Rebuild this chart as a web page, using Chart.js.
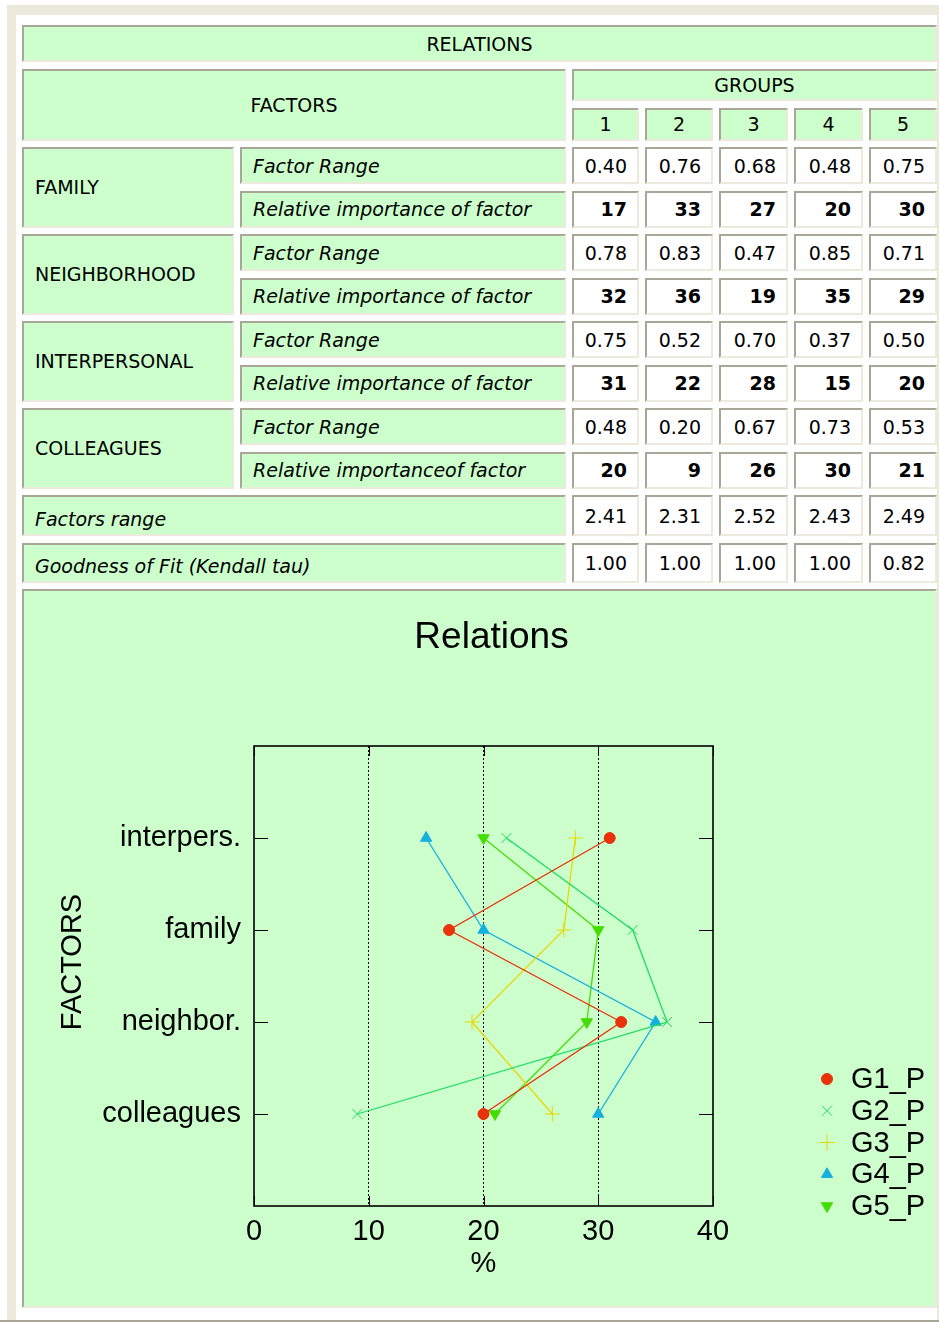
<!DOCTYPE html>
<html>
<head>
<meta charset="utf-8">
<title>Relations</title>
<script src="https://cdn.jsdelivr.net/npm/chart.js@4/dist/chart.umd.min.js"></script>
<style>
  body { margin: 0; background: #fff; width: 939px; height: 1322px; position: relative; overflow: hidden; }
  .frame { position: absolute; left: 7px; top: 5px; width: 932px; height: 1315px; background: #ebe8dc; }
  .inner { position: absolute; left: 16px; top: 15px; width: 921px; height: 1305px; background: #fff; }
  .bottomline { position: absolute; left: 0; top: 1320px; width: 939px; height: 2px; background: #a9a597; }
  #tbl {
    position: absolute; left: 22px; top: 25px;
    display: grid;
    grid-template-columns: 212px 326px 67px 68px 69px 69px 68px;
    grid-template-rows: 37px 32.5px 33px repeat(8, 37px) 41px 40px 719px;
    column-gap: 6px; row-gap: 6.5px;
    font-family: "DejaVu Sans", sans-serif; font-size: 19px; color: #000;
  }
  #tbl > div {
    box-sizing: border-box;
    border: 2px solid; border-color: #a9a597 #ece9dd #ece9dd #a9a597;
    background: #ccffcc;
    display: flex; align-items: center;
    white-space: nowrap; overflow: hidden;
  }
  #tbl .c { justify-content: center; }
  #tbl .l { padding-left: 11px; }
  #tbl .it { font-style: italic; }
  #tbl .num { background: #fff; justify-content: flex-end; padding-right: 10px; }
  #tbl .b { font-weight: bold; }
  #tbl .low { padding-top: 6px; }
  #tbl .chartcell { display: block; }
  .chartbox { position: relative; width: 912px; height: 715px; }
</style>
</head>
<body>
<div class="frame"></div>
<div class="inner"></div>
<div class="bottomline"></div>
<div id="tbl"></div>

<script>
// table data
var groups = ["1", "2", "3", "4", "5"];
var factorNames = ["FAMILY", "NEIGHBORHOOD", "INTERPERSONAL", "COLLEAGUES"];
var importanceLabels = ["Relative importance of factor", "Relative importance of factor",
                        "Relative importance of factor", "Relative importanceof factor"];

var rangeFamily = [0.40, 0.76, 0.68, 0.48, 0.75];
var rangeNeighbor = [0.78, 0.83, 0.47, 0.85, 0.71];
var rangeInterpersonal = [0.75, 0.52, 0.70, 0.37, 0.50];
var rangeColleagues = [0.48, 0.20, 0.67, 0.73, 0.53];

var importanceFamily = [17, 33, 27, 20, 30];
var importanceNeighbor = [32, 36, 19, 35, 29];
var importanceInterpersonal = [31, 22, 28, 15, 20];
var importanceColleagues = [20, 9, 26, 30, 21];

var factorsRange = [2.41, 2.31, 2.52, 2.43, 2.49];
var goodnessOfFit = [1.00, 1.00, 1.00, 1.00, 0.82];

// chart data (y categories top to bottom)
var categories = ["interpers.", "family", "neighbor.", "colleagues"];
var seriesNames = ["G1_P", "G2_P", "G3_P", "G4_P", "G5_P"];
var seriesColors = ["#e8320a", "#1edc62", "#e8d800", "#14b0e0", "#44dd00"];
var xTicks = [0, 10, 20, 30, 40];

var FONT = "'Liberation Sans', Arial, sans-serif";

// ---------- build the table ----------
var tbl = document.getElementById("tbl");
function cell(text, cls, row, col, rowSpan, colSpan) {
    var d = document.createElement("div");
    d.className = cls;
    d.textContent = text;
    d.style.gridRow = row + " / span " + (rowSpan || 1);
    d.style.gridColumn = col + " / span " + (colSpan || 1);
    tbl.appendChild(d);
    return d;
}

cell("RELATIONS", "c", 1, 1, 1, 7);
cell("FACTORS", "c", 2, 1, 2, 2);
cell("GROUPS", "c", 2, 3, 1, 5);
for (var g = 0; g < groups.length; g++) cell(groups[g], "c", 3, 3 + g);

var ranges = [rangeFamily, rangeNeighbor, rangeInterpersonal, rangeColleagues];
var importances = [importanceFamily, importanceNeighbor, importanceInterpersonal, importanceColleagues];
for (var f = 0; f < factorNames.length; f++) {
    var r = 4 + f * 2;
    cell(factorNames[f], "l", r, 1, 2, 1);
    cell("Factor Range", "l it", r, 2);
    cell(importanceLabels[f], "l it", r + 1, 2);
    for (var g = 0; g < groups.length; g++) {
        cell(ranges[f][g].toFixed(2), "num", r, 3 + g);
        cell(String(importances[f][g]), "num b", r + 1, 3 + g);
    }
}
cell("Factors range", "l it low", 12, 1, 1, 2);
cell("Goodness of Fit (Kendall tau)", "l it low", 13, 1, 1, 2);
for (var g = 0; g < groups.length; g++) {
    cell(factorsRange[g].toFixed(2), "num", 12, 3 + g);
    cell(goodnessOfFit[g].toFixed(2), "num", 13, 3 + g);
}
var chartCell = cell("", "chartcell", 14, 1, 1, 7);
chartCell.innerHTML = '<div class="chartbox"><canvas id="relChart"></canvas></div>';

// ---------- chart ----------
// series values per group, in category order (interpers., family, neighbor., colleagues)
var byCategory = [importanceInterpersonal, importanceFamily, importanceNeighbor, importanceColleagues];
var pointStyles = ["circle", "crossRot", "cross", "triangle", "triangle"];
var pointRadii = [5.5, 7, 7.5, 6.5, 6.5];
var pointRotations = [0, 0, 0, 0, 180];

var datasets = seriesNames.map(function (name, g) {
    return {
        label: name,
        data: categories.map(function (c, i) {
            return { x: byCategory[i][g], y: categories.length - i };
        }),
        showLine: true,
        fill: false,
        borderColor: seriesColors[g],
        backgroundColor: seriesColors[g],
        borderWidth: 1.3,
        pointStyle: pointStyles[g],
        pointRadius: pointRadii[g],
        pointRotation: pointRotations[g],
        pointBorderWidth: 1,
        pointBorderColor: seriesColors[g],
        pointBackgroundColor: seriesColors[g],
    };
});

// frame, inward ticks, title, y title and legend like the gnuplot original
var gnuplotLook = {
    id: "gnuplotLook",
    beforeDatasetsDraw: function (chart) {
        var ctx = chart.ctx, a = chart.chartArea;
        var xs = chart.scales.x, ys = chart.scales.y;
        ctx.save();
        ctx.strokeStyle = "#000";
        ctx.lineWidth = 1;
        ctx.beginPath();
        for (var i = 0; i < categories.length; i++) {
            var y = Math.round(ys.getPixelForValue(categories.length - i)) + 0.5;
            ctx.moveTo(a.left, y); ctx.lineTo(a.left + 14, y);
            ctx.moveTo(a.right - 14, y); ctx.lineTo(a.right, y);
        }
        xTicks.forEach(function (v) {
            var x = Math.round(xs.getPixelForValue(v)) + 0.5;
            ctx.moveTo(x, a.top); ctx.lineTo(x, a.top + 10);
            ctx.moveTo(x, a.bottom - 10); ctx.lineTo(x, a.bottom);
        });
        ctx.stroke();
        ctx.lineWidth = 1.6;
        ctx.strokeRect(a.left, a.top, a.right - a.left, a.bottom - a.top);
        ctx.restore();
    },
    afterDraw: function (chart) {
        var ctx = chart.ctx, a = chart.chartArea;
        ctx.save();
        ctx.fillStyle = "#000";
        ctx.font = "37px " + FONT;
        ctx.textAlign = "center";
        ctx.textBaseline = "middle";
        ctx.fillText("Relations", (a.left + a.right) / 2 + 8, 47);

        // rotated y axis title
        ctx.save();
        ctx.font = "29px " + FONT;
        ctx.translate(49, (a.top + a.bottom) / 2 - 14);
        ctx.rotate(-Math.PI / 2);
        ctx.fillText("FACTORS", 0, 0);
        ctx.restore();

        ctx.font = "29px " + FONT;
        ctx.textAlign = "left";
        var n = chart.data.datasets.length;
        chart.data.datasets.forEach(function (ds, i) {
            var y = a.bottom - (n - 1 - i) * 31.75;
            var x = a.right + 114;
            ctx.fillStyle = ds.backgroundColor;
            ctx.strokeStyle = ds.borderColor;
            ctx.lineWidth = 1;
            Chart.helpers.drawPoint(ctx, {
                pointStyle: ds.pointStyle,
                radius: ds.pointStyle === "cross" ? 8 : ds.pointRadius,
                rotation: ds.pointRotation,
                borderWidth: 1
            }, x, y);
            ctx.fillStyle = "#000";
            ctx.fillText(ds.label, x + 24, y + 1);
        });
        ctx.restore();
    }
};

var ctx = document.getElementById("relChart").getContext("2d");
var relChart = new Chart(ctx, {
    type: "scatter",
    data: { datasets: datasets },
    options: {
        responsive: true,
        maintainAspectRatio: false,
        animation: false,
        layout: { padding: { top: 155, right: 223, left: 0, bottom: 0 } },
        plugins: {
            legend: { display: false },
            title: { display: false },
            tooltip: { enabled: false },
        },
        scales: {
            x: {
                type: "linear",
                min: xTicks[0],
                max: xTicks[xTicks.length - 1],
                afterBuildTicks: function (scale) {
                    scale.ticks = xTicks.map(function (v) { return { value: v }; });
                },
                ticks: { color: "#000", padding: 9, font: { size: 29, family: FONT } },
                grid: {
                    drawTicks: false,
                    lineWidth: 1,
                    color: function (c) {
                        var v = c.tick ? c.tick.value : 0;
                        return v > xTicks[0] && v < xTicks[xTicks.length - 1] ? "#000" : "rgba(0,0,0,0)";
                    },
                },
                border: { display: false, dash: [2, 2] },
                title: {
                    display: true, text: "%", color: "#000",
                    font: { size: 29, family: FONT },
                    padding: { top: 0, bottom: 25 },
                },
                afterFit: function (scale) { scale.height = 100; },
            },
            y: {
                type: "linear",
                min: 0,
                max: categories.length + 1,
                ticks: {
                    stepSize: 1,
                    color: "#000",
                    padding: 13,
                    font: { size: 29, family: FONT },
                    callback: function (v) {
                        var i = categories.length - v;
                        return i >= 0 && i < categories.length ? categories[i] : "";
                    },
                },
                grid: { display: false, drawTicks: false },
                border: { display: false },
                title: { display: false },
                afterFit: function (scale) { scale.width = 230; },
            },
        },
    },
    plugins: [gnuplotLook],
});
</script>
</body>
</html>
